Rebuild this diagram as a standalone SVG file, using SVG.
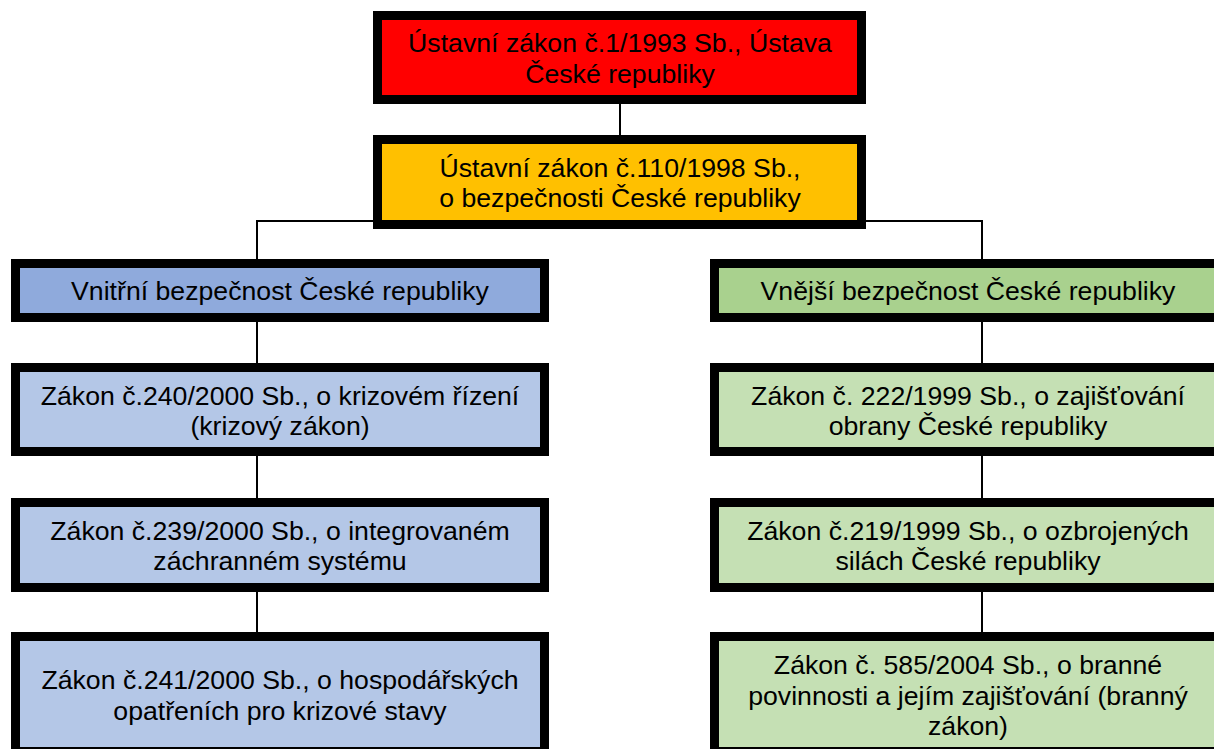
<svg xmlns="http://www.w3.org/2000/svg" width="1214" height="749" viewBox="0 0 1214 749">
<style>
.box{stroke:#000;stroke-width:9}
.t{font-family:"Liberation Sans",Arial,sans-serif;font-size:26.67px;fill:#000;text-anchor:middle}
.c{stroke:#000;stroke-width:2;fill:none}
</style>
<rect width="1214" height="749" fill="#fff"/>
<g id="connectors">
<line class="c" x1="620" y1="104" x2="620" y2="135"/>
<polyline class="c" points="257,259 257,221 982,221 982,259"/>
<line class="c" x1="257" y1="322" x2="257" y2="363"/>
<line class="c" x1="257" y1="456" x2="257" y2="498"/>
<line class="c" x1="257" y1="592" x2="257" y2="632"/>
<line class="c" x1="982" y1="322" x2="982" y2="363"/>
<line class="c" x1="982" y1="456" x2="982" y2="498"/>
<line class="c" x1="982" y1="592" x2="982" y2="632"/>
</g>
<g id="n-ustava">
<rect class="box" x="377.5" y="15.5" width="484" height="84" fill="#FF0000"/>
<text class="t" x="620" y="52.2">Ústavní zákon č.1/1993 Sb., Ústava</text>
<text class="t" x="620" y="82.9">České republiky</text>
</g>
<g id="n-bezpecnost">
<rect class="box" x="377.5" y="139.5" width="484" height="85" fill="#FFC000"/>
<text class="t" x="620" y="176.5">Ústavní zákon č.110/1998 Sb.,</text>
<text class="t" x="620" y="207.2">o bezpečnosti České republiky</text>
</g>
<g id="n-vnitrni">
<rect class="box" x="15.5" y="263.5" width="529" height="54" fill="#8FAADC"/>
<text class="t" x="280" y="300">Vnitřní bezpečnost České republiky</text>
</g>
<g id="n-vnejsi">
<rect class="box" x="714.5" y="263.5" width="507" height="54" fill="#A9D18E"/>
<text class="t" x="968" y="300">Vnější bezpečnost České republiky</text>
</g>
<g id="n-240">
<rect class="box" x="15.5" y="367.5" width="529" height="84" fill="#B4C7E7"/>
<text class="t" x="280" y="404.5">Zákon č.240/2000 Sb., o krizovém řízení</text>
<text class="t" x="280" y="435.2">(krizový zákon)</text>
</g>
<g id="n-239">
<rect class="box" x="15.5" y="502.5" width="529" height="85" fill="#B4C7E7"/>
<text class="t" x="280" y="539.5">Zákon č.239/2000 Sb., o integrovaném</text>
<text class="t" x="280" y="570.2">záchranném systému</text>
</g>
<g id="n-241">
<rect class="box" x="15.5" y="636.5" width="529" height="115" fill="#B4C7E7"/>
<text class="t" x="280" y="689">Zákon č.241/2000 Sb., o hospodářských</text>
<text class="t" x="280" y="719.7">opatřeních pro krizové stavy</text>
</g>
<g id="n-222">
<rect class="box" x="714.5" y="367.5" width="507" height="84" fill="#C5E0B4"/>
<text class="t" x="968" y="404.5">Zákon č. 222/1999 Sb., o zajišťování</text>
<text class="t" x="968" y="435.2">obrany České republiky</text>
</g>
<g id="n-219">
<rect class="box" x="714.5" y="502.5" width="507" height="85" fill="#C5E0B4"/>
<text class="t" x="968" y="539.5">Zákon č.219/1999 Sb., o ozbrojených</text>
<text class="t" x="968" y="570.2">silách České republiky</text>
</g>
<g id="n-585">
<rect class="box" x="714.5" y="636.5" width="507" height="115" fill="#C5E0B4"/>
<text class="t" x="968" y="674">Zákon č. 585/2004 Sb., o branné</text>
<text class="t" x="968" y="704.7">povinnosti a jejím zajišťování (branný</text>
<text class="t" x="968" y="735.4">zákon)</text>
</g>
</svg>
